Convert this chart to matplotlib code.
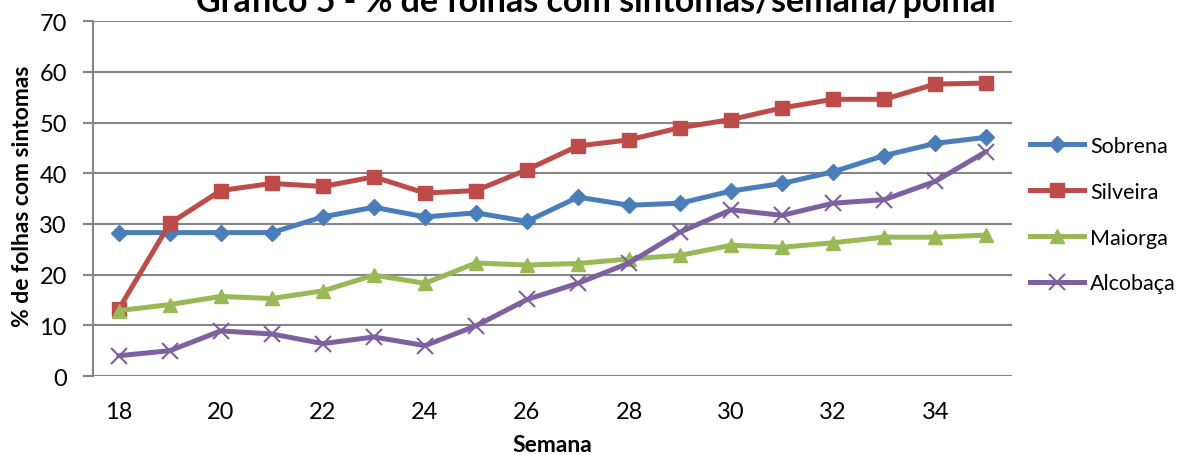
import matplotlib
matplotlib.use("Agg")
import matplotlib.pyplot as plt
from matplotlib.lines import Line2D

plt.rcParams['font.family'] = ['Lato', 'DejaVu Sans']

semanas = list(range(18, 36))
sobrena = [28.3, 28.3, 28.3, 28.3, 31.4, 33.3, 31.4, 32.2, 30.5, 35.3, 33.7, 34.1, 36.5, 38.0, 40.3, 43.5, 45.9, 47.1]
silveira = [13.2, 30.1, 36.6, 38.0, 37.4, 39.3, 36.1, 36.6, 40.7, 45.4, 46.6, 49.0, 50.6, 52.9, 54.6, 54.6, 57.6, 57.8]
maiorga = [12.9, 14.1, 15.7, 15.3, 16.8, 19.9, 18.3, 22.3, 21.9, 22.2, 23.1, 23.8, 25.8, 25.4, 26.3, 27.4, 27.4, 27.8]
alcobaca = [4.0, 5.0, 8.9, 8.3, 6.4, 7.7, 6.0, 9.9, 15.1, 18.3, 22.3, 28.4, 32.8, 31.7, 34.1, 34.8, 38.4, 44.3]

series = [
    ("Sobrena", sobrena, "#4A7EBB", "D", 8),
    ("Silveira", silveira, "#BE4B48", "s", 10),
    ("Maiorga", maiorga, "#98B954", "^", 10),
    ("Alcobaça", alcobaca, "#7D60A0", "x", 11),
]

fig = plt.figure(figsize=(11.91, 4.56), dpi=100)
ax = fig.add_axes([0.0783, 0.1732, 0.7712, 0.778])

for name, vals, col, mk, ms in series:
    ax.plot(semanas, vals, color=col, lw=3.6, marker=mk, markersize=ms,
            markeredgecolor=col, markerfacecolor=col, markeredgewidth=1.5 if mk == "x" else 1,
            label=name, solid_capstyle='round', clip_on=False, zorder=3)

ax.set_xlim(17.5, 35.5)
ax.set_ylim(0, 70)
ax.set_yticks(range(0, 71, 10))
ax.set_xticks(range(18, 35, 2))
ax.grid(axis='y', color='#868686', lw=1.5)
ax.set_axisbelow(True)
for s in ['top', 'right', 'bottom']:
    ax.spines[s].set_visible(False)
ax.spines['left'].set_color('#868686')
ax.spines['left'].set_linewidth(1.5)
ax.tick_params(axis='y', length=7, width=1.5, color='#868686', labelsize=17, pad=12)
ax.tick_params(axis='x', length=0, labelsize=17, pad=18)

fig.text(0.0185, 0.57, "% de folhas com sintomas", rotation=90, ha='center', va='center',
         fontsize=16.5, fontweight='bold')
fig.text(0.464, 0.022, "Semana", ha='center', va='center', fontsize=16.5, fontweight='bold')
fig.text(0.502, 0.974, "Gráfico 5 - % de folhas com sintomas/semana/pomar", ha='center',
         va='baseline', fontsize=24.5, fontweight='bold')

handles = [Line2D([0], [0], color=c, lw=3.6, marker=m, markersize=ms, markeredgecolor=c,
                  markerfacecolor=c, markeredgewidth=1.5 if m == "x" else 1)
           for _, _, c, m, ms in series]
fig.legend(handles, [s[0] for s in series], loc='center left', bbox_to_anchor=(0.8648, 0.527),
           frameon=False, fontsize=15.5, handlelength=2.5, labelspacing=1.2, handletextpad=0.3,
           borderaxespad=0, borderpad=0)

fig.savefig("out.png", dpi=100)
